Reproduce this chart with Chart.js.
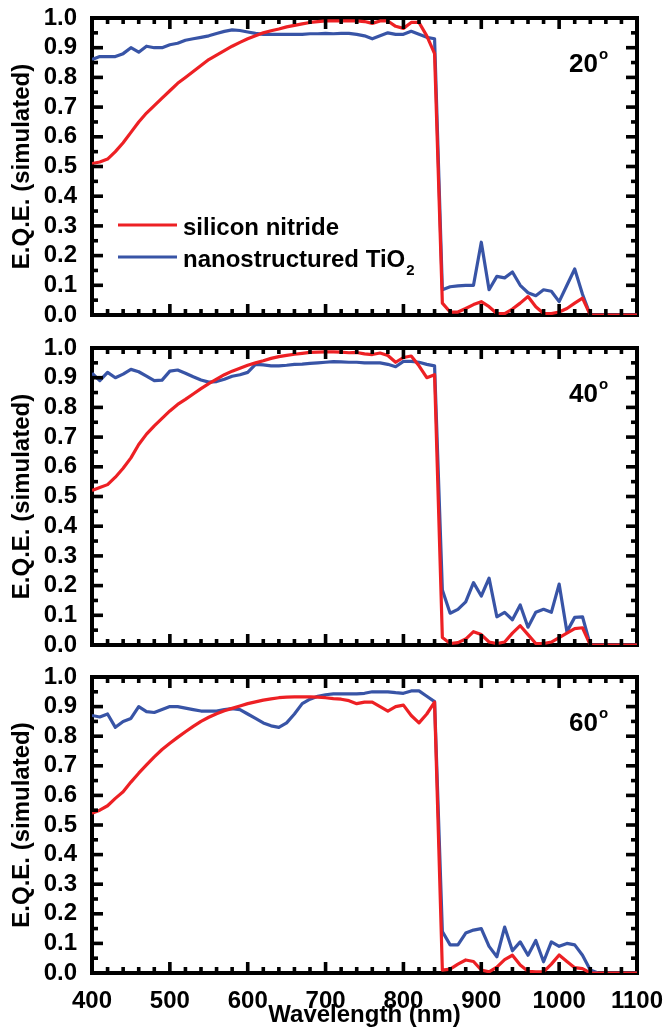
<!DOCTYPE html>
<html>
<head>
<meta charset="utf-8">
<title>E.Q.E. vs wavelength</title>
<script src="https://cdn.jsdelivr.net/npm/chart.js@4.4.0/dist/chart.umd.min.js"></script>
<style>
  body { margin: 0; background: #fff; }
  #wrap { position: relative; width: 665px; height: 1032px; }
  canvas { position: absolute; left: 0; }
</style>
</head>
<body>
<div id="wrap">
  <canvas id="p20" width="665" height="330" style="top:0px"></canvas>
  <canvas id="p40" width="665" height="330" style="top:330px"></canvas>
  <canvas id="p60" width="665" height="372" style="top:660px"></canvas>
</div>
<script>
// wavelength grid (nm)
const wavelengths = [
  400, 410, 420, 430, 440, 450, 460, 470, 480, 490,
  500, 510, 520, 530, 540, 550, 560, 570, 580, 590,
  600, 610, 620, 630, 640, 650, 660, 670, 680, 690,
  700, 710, 720, 730, 740, 750, 760, 770, 780, 790,
  800, 810, 820, 830, 840, 850, 860, 870, 880, 890,
  900, 910, 920, 930, 940, 950, 960, 970, 980, 990,
  1000, 1010, 1020, 1030, 1040, 1050, 1060, 1070, 1080, 1090, 1100
];

const seriesNames = ["silicon nitride", "nanostructured TiO"];
const angles = ["20", "40", "60"];

// 20 degrees
const red20 = [
  0.51, 0.515, 0.525, 0.55, 0.58, 0.615, 0.65, 0.68, 0.705, 0.73,
  0.755, 0.78, 0.80, 0.82, 0.84, 0.86, 0.875, 0.89, 0.905, 0.918,
  0.93, 0.94, 0.95, 0.957, 0.963, 0.97, 0.975, 0.98, 0.985, 0.988,
  0.99, 0.99, 0.99, 0.99, 0.99, 0.988, 0.982, 0.99, 0.99, 0.972,
  0.965, 0.985, 0.985, 0.94, 0.88, 0.04, 0.01, 0.01, 0.022, 0.035,
  0.045, 0.028, 0.005, 0.005, 0.02, 0.04, 0.062, 0.028, 0.005, 0.005,
  0.01, 0.022, 0.04, 0.057, 0, 0, 0, 0, 0, 0, 0
];
const blue20 = [
  0.86, 0.87, 0.87, 0.87, 0.88, 0.90, 0.885, 0.905, 0.90, 0.90,
  0.91, 0.915, 0.925, 0.93, 0.935, 0.94, 0.948, 0.955, 0.96, 0.958,
  0.953, 0.948, 0.945, 0.945, 0.945, 0.945, 0.945, 0.945, 0.947, 0.947,
  0.948, 0.947, 0.948, 0.948, 0.945, 0.94, 0.93, 0.94, 0.95, 0.945,
  0.945, 0.955, 0.945, 0.935, 0.93, 0.085, 0.095, 0.098, 0.10, 0.10,
  0.245, 0.085, 0.13, 0.125, 0.145, 0.10, 0.075, 0.065, 0.085, 0.08,
  0.045, 0.10, 0.155, 0.07, 0, 0, 0, 0, 0, 0, 0
];

// 40 degrees
const red40 = [
  0.52, 0.53, 0.54, 0.565, 0.595, 0.63, 0.675, 0.71, 0.738, 0.763,
  0.788, 0.81, 0.827, 0.845, 0.863, 0.88, 0.895, 0.91, 0.922, 0.932,
  0.942, 0.95, 0.957, 0.965, 0.971, 0.975, 0.979, 0.982, 0.985, 0.986,
  0.987, 0.987, 0.986, 0.984, 0.985, 0.98, 0.978, 0.983, 0.975, 0.952,
  0.968, 0.973, 0.94, 0.90, 0.91, 0.025, 0.005, 0.008, 0.02, 0.045,
  0.035, 0.01, 0.005, 0.01, 0.04, 0.065, 0.035, 0.005, 0.005, 0.01,
  0.025, 0.04, 0.055, 0.058, 0, 0, 0, 0, 0, 0, 0
];
const blue40 = [
  0.915, 0.89, 0.918, 0.90, 0.912, 0.928, 0.92, 0.905, 0.89, 0.892,
  0.922, 0.926, 0.915, 0.903, 0.892, 0.885, 0.887, 0.895, 0.905, 0.91,
  0.918, 0.945, 0.943, 0.94, 0.94, 0.942, 0.945, 0.946, 0.948, 0.95,
  0.952, 0.954, 0.953, 0.952, 0.952, 0.95, 0.95, 0.95, 0.945, 0.937,
  0.955, 0.955, 0.952, 0.945, 0.94, 0.185, 0.107, 0.12, 0.145, 0.21,
  0.165, 0.225, 0.095, 0.11, 0.085, 0.135, 0.06, 0.11, 0.12, 0.11,
  0.205, 0.045, 0.093, 0.095, 0, 0, 0, 0, 0, 0, 0
];

// 60 degrees
const red60 = [
  0.54, 0.55, 0.565, 0.59, 0.612, 0.645, 0.675, 0.703, 0.73, 0.755,
  0.776, 0.796, 0.815, 0.833, 0.85, 0.864, 0.876, 0.886, 0.894, 0.902,
  0.91, 0.916, 0.922, 0.926, 0.93, 0.932, 0.933, 0.933, 0.933, 0.932,
  0.93, 0.927, 0.925, 0.92, 0.91, 0.915, 0.915, 0.90, 0.885, 0.90,
  0.905, 0.87, 0.845, 0.875, 0.915, 0.01, 0.013, 0.03, 0.044, 0.039,
  0.01, 0.004, 0.02, 0.045, 0.06, 0.027, 0.006, 0.004, 0.004, 0.03,
  0.061, 0.039, 0.018, 0.015, 0, 0, 0, 0, 0, 0, 0
];
const blue60 = [
  0.87, 0.865, 0.875, 0.83, 0.85, 0.86, 0.90, 0.883, 0.88, 0.89,
  0.90, 0.90, 0.895, 0.89, 0.885, 0.885, 0.885, 0.89, 0.893, 0.89,
  0.875, 0.86, 0.845, 0.835, 0.83, 0.845, 0.875, 0.91, 0.925, 0.935,
  0.94, 0.943, 0.943, 0.943, 0.943, 0.945, 0.95, 0.95, 0.95, 0.947,
  0.945, 0.953, 0.953, 0.935, 0.917, 0.14, 0.095, 0.095, 0.135, 0.145,
  0.15, 0.09, 0.055, 0.155, 0.075, 0.105, 0.06, 0.11, 0.038, 0.105,
  0.09, 0.10, 0.095, 0.06, 0.01, 0, 0, 0, 0, 0, 0
];

const X_MIN = 400, X_MAX = 1100;
const Y_MIN = 0, Y_MAX = 1;

const RED = "rgb(237,32,36)";
const BLUE = "rgb(56,84,166)";
const FONT = '"Liberation Sans", Arial, Helvetica, sans-serif';

Chart.defaults.font.family = FONT;
Chart.defaults.font.weight = "bold";
Chart.defaults.color = "#000";

// pixel for a value on a scale, falling back to the scale's own min/max span
function scalePixel(scale, v, lo, hi, horizontal) {
  let p = scale.getPixelForValue(v);
  if (Number.isFinite(p) && p >= lo - 1 && p <= hi + 1) return p;
  const mn = Number.isFinite(scale.min) ? scale.min : (horizontal ? X_MIN : Y_MIN);
  const mx = Number.isFinite(scale.max) ? scale.max : (horizontal ? X_MAX : Y_MAX);
  const t = (v - mn) / (mx - mn);
  return horizontal ? lo + t * (hi - lo) : hi - t * (hi - lo);
}

// plot box, drawn under the curves
function drawBox(chart) {
  const { ctx, chartArea: a } = chart;
  ctx.save();
  ctx.strokeStyle = "#000";
  ctx.lineWidth = 4;
  ctx.strokeRect(a.left, a.top, a.right - a.left, a.bottom - a.top);
  ctx.restore();
}

// inward ticks: every 20 nm / 0.05 on all four sides, long ones at 100 nm / 0.1
function drawTicks(chart) {
  const { ctx, chartArea: a } = chart;
  const xs = chart.scales.x, ys = chart.scales.y;
  const w = 3.6;
  ctx.save();
  ctx.fillStyle = "#000";
  for (let i = 1; i < 35; i++) {
    const px = scalePixel(xs, X_MIN + i * 20, a.left, a.right, true);
    const len = i % 5 === 0 ? 11 : 6;
    ctx.fillRect(px - w / 2, a.bottom - len, w, len);
    ctx.fillRect(px - w / 2, a.top, w, len);
  }
  for (let i = 1; i < 20; i++) {
    const py = scalePixel(ys, i * 0.05, a.top, a.bottom, false);
    const len = i % 2 === 0 ? 11 : 6;
    ctx.fillRect(a.left, py - w / 2, len, w);
    ctx.fillRect(a.right - len, py - w / 2, len, w);
  }
  ctx.restore();
}

// angle tag and (first panel) legend
function drawLabels(chart, opts) {
  const { ctx, chartArea: a } = chart;
  ctx.save();
  ctx.fillStyle = "#000";
  ctx.textBaseline = "alphabetic";

  ctx.font = "bold 26px " + FONT;
  ctx.textAlign = "right";
  ctx.fillText(opts.angle, a.right - 39, a.top + 54);
  ctx.font = "bold 15px " + FONT;
  ctx.textAlign = "left";
  ctx.fillText("o", a.right - 38, a.top + 41);

  if (opts.legend) {
    const rows = [
      { color: RED, name: seriesNames[0], sub: "", dy: 207 },
      { color: BLUE, name: seriesNames[1], sub: "2", dy: 239 }
    ];
    rows.forEach(r => {
      ctx.strokeStyle = r.color;
      ctx.lineWidth = 3.2;
      ctx.beginPath();
      ctx.moveTo(a.left + 26, a.top + r.dy);
      ctx.lineTo(a.left + 85, a.top + r.dy);
      ctx.stroke();
      ctx.font = "bold 24px " + FONT;
      ctx.fillText(r.name, a.left + 91, a.top + r.dy + 10);
      if (r.sub) {
        const tw = ctx.measureText(r.name).width;
        ctx.font = "bold 15px " + FONT;
        ctx.fillText(r.sub, a.left + 92 + tw, a.top + r.dy + 18);
      }
    });
  }
  ctx.restore();
}

const panelFrame = {
  id: "panelFrame",
  beforeDatasetsDraw(chart) {
    drawBox(chart);
  },
  afterDatasetsDraw(chart, args, opts) {
    drawTicks(chart);
    drawLabels(chart, opts);
  }
};

function makePanel(id, angle, red, blue, withAxis, withLegend) {
  const tickFont = { size: 24, weight: "bold" };
  const xScale = {
    type: "linear",
    min: X_MIN,
    max: X_MAX,
    display: withAxis,
    grid: { display: false },
    border: { display: false },
    ticks: { stepSize: 100, padding: 6, font: tickFont, color: "#000", maxRotation: 0, autoSkip: false,
             callback: v => String(v) },
    title: { display: true, text: "Wavelength (nm)", font: tickFont, color: "#000", padding: { top: 0, bottom: 2 } }
  };
  if (withAxis) {
    xScale.afterFit = s => { s.height = 59; s.paddingLeft = 0; s.paddingRight = 0; };
  }

  return new Chart(document.getElementById(id), {
    type: "line",
    data: {
      labels: wavelengths,
      datasets: [
        { label: seriesNames[0], data: red, borderColor: RED, borderWidth: 3.2,
          pointRadius: 0, tension: 0, borderJoinStyle: "round", fill: false },
        { label: seriesNames[1] + "2", data: blue, borderColor: BLUE, borderWidth: 3.2,
          pointRadius: 0, tension: 0, borderJoinStyle: "round", fill: false }
      ]
    },
    options: {
      responsive: false,
      animation: false,
      layout: { padding: { left: 0, right: 28, top: withAxis ? 17 : 18, bottom: withAxis ? 0 : 15 } },
      plugins: {
        legend: { display: false },
        tooltip: { enabled: false },
        panelFrame: { angle: angle, legend: withLegend }
      },
      scales: {
        x: xScale,
        y: {
          min: Y_MIN,
          max: Y_MAX,
          grid: { display: false },
          border: { display: false },
          ticks: { stepSize: 0.1, padding: 7, font: tickFont, color: "#000", autoSkip: false,
                   callback: v => v.toFixed(1) },
          title: { display: true, text: "E.Q.E. (simulated)", font: tickFont, color: "#000", padding: { top: 8, bottom: 0 } },
          afterFit(s) { s.width = 92; s.paddingTop = 0; s.paddingBottom = 0; }
        }
      }
    },
    plugins: [panelFrame]
  });
}

makePanel("p20", angles[0], red20, blue20, false, true);
makePanel("p40", angles[1], red40, blue40, false, false);
makePanel("p60", angles[2], red60, blue60, true, false);
</script>
</body>
</html>
